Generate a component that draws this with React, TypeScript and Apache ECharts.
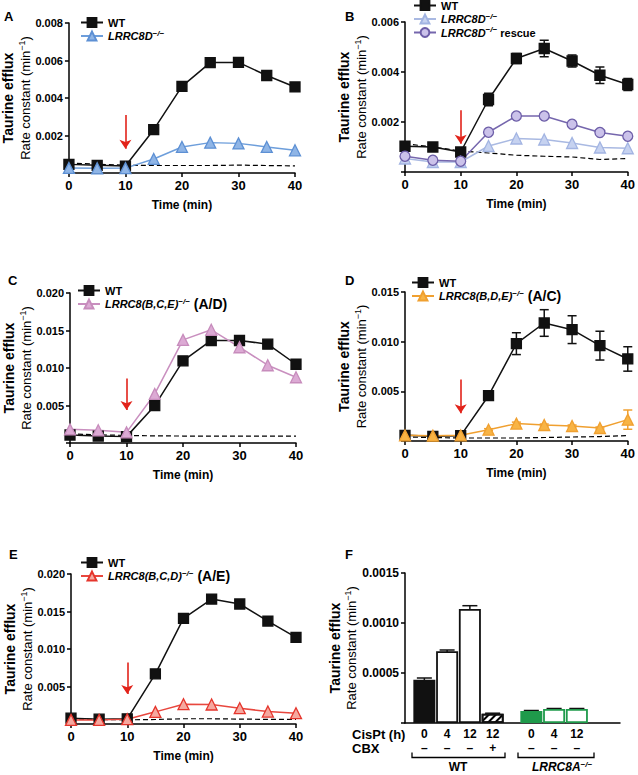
import React, { useEffect, useRef } from "react";
import * as echarts from "echarts";

const FONT = '"Liberation Sans", Arial, Helvetica, sans-serif';

// ---------- data ----------
const times = [0, 5, 10, 15, 20, 25, 30, 35, 40];

// Panel A
const aWT = [0.00046, 0.00041, 0.00037, 0.00231, 0.00462, 0.00589, 0.0059, 0.0052, 0.00459];
const aWTErr = [0.00005, 0.00004, 0.00003, 0.00008, 0.00018, 0.0002, 0.00012, 0.0001, 0.00008];
const aKO = [0.00027, 0.00025, 0.00026, 0.00075, 0.00139, 0.00162, 0.00158, 0.00139, 0.00121];
const aCtrl = [0.00053, 0.00047, 0.00041, 0.0004, 0.0004, 0.0004, 0.00042, 0.0004, 0.00038];
const aArrow = [0.0031, 0.0013];

// Panel B
const bWT = [0.00103, 0.001, 0.0008, 0.0029, 0.00454, 0.00494, 0.00444, 0.00387, 0.0035];
const bWTErr = [0.00005, 0.00003, 0.00006, 0.00025, 0.0002, 0.00033, 0.00024, 0.00033, 0.00024];
const bKO = [0.00054, 0.0004, 0.0004, 0.00104, 0.00134, 0.0013, 0.00116, 0.00098, 0.00095];
const bRescue = [0.00063, 0.00047, 0.00043, 0.00159, 0.00224, 0.00224, 0.00191, 0.00158, 0.00143];
const bCtrl = [0.00113, 0.001, 0.00084, 0.00076, 0.00067, 0.00063, 0.0006, 0.0005, 0.00054];
const bArrow = [0.00247, 0.00113];

// Panel C
const cWT = [0.00107, 0.00093, 0.00085, 0.00498, 0.01095, 0.01367, 0.01367, 0.01318, 0.0105];
const cKO = [0.00182, 0.00169, 0.00142, 0.00654, 0.01375, 0.01509, 0.01277, 0.01037, 0.00877];
const cCtrl = [0.0012, 0.0011, 0.001, 0.00095, 0.00093, 0.00093, 0.00093, 0.00093, 0.00093];
const cArrow = [0.0086, 0.0044];

// Panel D
const dWT = [0.00057, 0.00047, 0.00054, 0.00456, 0.0098, 0.01188, 0.01121, 0.0096, 0.00826];
const dWTErr = [0.0001, 0.00008, 0.0001, 0.00045, 0.0011, 0.00134, 0.0014, 0.00145, 0.00123];
const dKO = [0.00057, 0.00054, 0.00057, 0.00114, 0.00175, 0.00161, 0.00151, 0.00131, 0.00215];
const dKOErr = [0.0001, 0.0001, 0.0001, 0.0001, 0.00015, 0.0001, 0.0001, 0.0001, 0.00097];
const dCtrl = [0.0004, 0.00035, 0.0003, 0.0003, 0.0003, 0.00035, 0.0004, 0.00045, 0.00054];
const dArrow = [0.0062, 0.0028];

// Panel E
const eWT = [0.00078, 0.00064, 0.00069, 0.00668, 0.01409, 0.01666, 0.016, 0.01373, 0.01156];
const eKO = [0.00055, 0.00055, 0.00064, 0.00162, 0.00264, 0.0026, 0.00211, 0.00166, 0.00144];
const eCtrl = [0.0007, 0.0006, 0.00055, 0.0006, 0.0007, 0.0007, 0.00065, 0.00062, 0.0006];
const eArrow = [0.0082, 0.004];

// Panel F
const fGenotype = ["WT", "WT", "WT", "WT", "LRRC8A", "LRRC8A", "LRRC8A"];
const fCisPt = ["0", "4", "12", "12", "0", "4", "12"];
const fCBX = ["–", "–", "–", "+", "–", "–", "–"];
const fValues = [0.000433, 0.000717, 0.00114, 0.000093, 0.00012, 0.00014, 0.00014];
const fErr = [0.000017, 0.000013, 0.000033, 0.000005, 0.000005, 0.000005, 0.000005];

// ---------- styles / helpers ----------
const BLACK = "#111";
const groupStart: Record<string, number> = { WT: 0.35, LRRC8A: 5.05 };

const yRich = {
  t: { fontFamily: FONT, fontSize: 14, fontWeight: "bold", lineHeight: 18, color: "#000" },
  r: { fontFamily: FONT, fontSize: 13, lineHeight: 16, color: "#000" },
  s: { fontFamily: FONT, fontSize: 9, lineHeight: 9, verticalAlign: "top", color: "#000" },
};
const yName = "{t|Taurine efflux}\n{r|Rate constant (min}{s|−1}{r|)}";

const legRich = {
  b: { fontFamily: FONT, fontSize: 11, fontWeight: "bold", lineHeight: 14, color: "#000" },
  i: { fontFamily: FONT, fontSize: 11, fontWeight: "bold", fontStyle: "italic", lineHeight: 14, color: "#000" },
  s: { fontFamily: FONT, fontSize: 8, fontWeight: "bold", fontStyle: "italic", lineHeight: 8, verticalAlign: "top", color: "#000" },
  L: { fontFamily: FONT, fontSize: 14, fontWeight: "bold", lineHeight: 14, color: "#000" },
};
const legLabels: Record<string, string> = {
  "A:WT": "{b|WT}",
  "A:KO": "{i|LRRC8D}{s|−/−}",
  "B:WT": "{b|WT}",
  "B:KO": "{i|LRRC8D}{s|−/−}",
  "B:R": "{i|LRRC8D}{s|−/−}{b| rescue}",
  "C:WT": "{b|WT}",
  "C:KO": "{i|LRRC8(B,C,E)}{s|−/−}{L| (A/D)}",
  "D:WT": "{b|WT}",
  "D:KO": "{i|LRRC8(B,D,E)}{s|−/−}{L| (A/C)}",
  "E:WT": "{b|WT}",
  "E:KO": "{i|LRRC8(B,C,D)}{s|−/−}{L| (A/E)}",
};

const grids = [
  { left: 68, top: 23, width: 227, height: 150 },
  { left: 405, top: 22, width: 226, height: 150 },
  { left: 70, top: 293, width: 226, height: 150 },
  { left: 405, top: 292, width: 226, height: 149 },
  { left: 71, top: 574, width: 225, height: 150 },
  { left: 405, top: 573, width: 215, height: 150 },
];

const axisLine = { show: true, onZero: false, lineStyle: { color: "#000", width: 1.5 } };
const axisTick = { show: true, length: 4, lineStyle: { color: "#000", width: 1.5 } };

function yAxis(idx: number, max: number, interval: number, dec: number, gap: number, size = 11) {
  return {
    type: "value",
    gridIndex: idx,
    min: 0,
    max,
    interval,
    axisLine,
    axisTick,
    splitLine: { show: false },
    axisLabel: {
      fontFamily: FONT,
      fontSize: size,
      fontWeight: "bold",
      color: "#000",
      margin: 6,
      formatter: (v: number) => (v === 0 ? "" : v.toFixed(dec)),
    },
    name: yName,
    nameLocation: "middle",
    nameRotate: 90,
    nameGap: gap,
    nameTextStyle: { rich: yRich, color: "#000" },
  };
}

function xAxis(idx: number) {
  return {
    type: "value",
    gridIndex: idx,
    min: 0,
    max: 40,
    interval: 10,
    axisLine,
    axisTick,
    splitLine: { show: false },
    axisLabel: { fontFamily: FONT, fontSize: 13, fontWeight: "bold", color: "#000", margin: 6 },
    name: "Time (min)",
    nameLocation: "middle",
    nameGap: 26,
    nameTextStyle: { fontFamily: FONT, fontSize: 12, fontWeight: "bold", color: "#000" },
  };
}

function lineSeries(
  name: string,
  idx: number,
  vals: number[],
  symbol: string,
  size: number,
  fill: string,
  stroke: string,
  lineColor: string
) {
  return {
    name,
    type: "line",
    xAxisIndex: idx,
    yAxisIndex: idx,
    data: times.map((t, i) => [t, vals[i]]),
    symbol,
    symbolSize: size,
    clip: false,
    itemStyle: { color: fill, borderColor: stroke, borderWidth: 1.3 },
    lineStyle: { color: lineColor, width: 1.5 },
    emphasis: { disabled: true },
    z: 4,
  };
}

function ctrlSeries(idx: number, vals: number[], arrow: number[]) {
  return {
    type: "line",
    xAxisIndex: idx,
    yAxisIndex: idx,
    data: times.map((t, i) => [t, vals[i]]),
    symbol: "none",
    clip: false,
    lineStyle: { color: "#000", width: 1.2, type: [5, 3] },
    emphasis: { disabled: true },
    z: 2,
    markLine: {
      silent: true,
      symbol: ["none", "arrow"],
      symbolSize: 9,
      label: { show: false },
      lineStyle: { color: "#e2231a", width: 1.6, type: "solid" },
      data: [[{ coord: [10, arrow[0]] }, { coord: [10, arrow[1]] }]],
    },
  };
}

function errSeries(idx: number, xs: number[], vals: number[], errs: number[], cap: number, color: string, z = 3) {
  return {
    type: "custom",
    xAxisIndex: idx,
    yAxisIndex: idx,
    data: xs.map((x, i) => [x, vals[i], errs[i]]),
    encode: { x: 0, y: 1 },
    clip: false,
    z,
    silent: true,
    renderItem: (params: any, api: any) => {
      const x = api.value(0);
      const y = api.value(1);
      const e = api.value(2);
      const top = api.coord([x, y + e]);
      const bot = api.coord([x, y - e]);
      const st = { stroke: color, lineWidth: 1.5 };
      return {
        type: "group",
        children: [
          { type: "line", shape: { x1: top[0], y1: top[1], x2: bot[0], y2: bot[1] }, style: st },
          { type: "line", shape: { x1: top[0] - cap / 2, y1: top[1], x2: top[0] + cap / 2, y2: top[1] }, style: st },
          { type: "line", shape: { x1: bot[0] - cap / 2, y1: bot[1], x2: bot[0] + cap / 2, y2: bot[1] }, style: st },
        ],
      };
    },
  };
}

function legend(names: string[], left: number, top: number) {
  return {
    data: names,
    orient: "vertical",
    left,
    top,
    padding: 0,
    itemGap: 1,
    itemWidth: 22,
    itemHeight: 11,
    selectedMode: false,
    formatter: (n: string) => legLabels[n],
    textStyle: { fontFamily: FONT, fontSize: 11, fontWeight: "bold", color: "#000", rich: legRich },
  };
}

function barStyle(i: number) {
  const g = fGenotype[i];
  const col = g === "WT" ? BLACK : "#1f9a4b";
  if (fCBX[i] === "+") {
    return {
      color: "#fff",
      borderColor: col,
      borderWidth: 1.8,
      decal: {
        symbol: "rect",
        symbolSize: 1,
        color: "#000",
        backgroundColor: "#fff",
        dashArrayX: [1, 0],
        dashArrayY: [1.5, 3],
        rotation: -Math.PI / 4,
      },
    };
  }
  if (fCisPt[i] === "0") return { color: col, borderColor: col, borderWidth: 1.8 };
  return { color: "#fff", borderColor: col, borderWidth: 1.8 };
}

export default function App() {
  const ref = useRef<HTMLDivElement>(null);
  useEffect(() => {
    if (!ref.current) return;
    const chart = echarts.init(ref.current, null, { renderer: "svg" });

    const groupCount: Record<string, number> = {};
    const fPos = fGenotype.map((g) => {
      const k = groupCount[g] || 0;
      groupCount[g] = k + 1;
      return groupStart[g] + k + 0.5;
    });

    const letters = [
      ["A", 4, 16],
      ["B", 345, 16],
      ["C", 8, 280],
      ["D", 345, 280],
      ["E", 9, 554],
      ["F", 345, 554],
    ];

    const bracket = (x1: number, x2: number) => ({
      type: "polyline",
      shape: { points: [[x1, 752.5], [x1, 757.5], [x2, 757.5], [x2, 752.5]] },
      style: { stroke: "#000", lineWidth: 1.3, fill: "none" },
    });

    const option: any = {
      animation: false,
      textStyle: { fontFamily: FONT },
      grid: grids,
      xAxis: [
        xAxis(0),
        xAxis(1),
        xAxis(2),
        xAxis(3),
        xAxis(4),
        {
          type: "value",
          gridIndex: 5,
          min: 0,
          max: 9.445,
          axisLine,
          axisTick: { show: false },
          axisLabel: { show: false },
          splitLine: { show: false },
        },
      ],
      yAxis: [
        yAxis(0, 0.008, 0.002, 3, 34),
        yAxis(1, 0.006, 0.002, 3, 35),
        yAxis(2, 0.02, 0.005, 3, 36),
        yAxis(3, 0.015, 0.005, 3, 34),
        yAxis(4, 0.02, 0.005, 3, 36),
        yAxis(5, 0.0015, 0.0005, 4, 44, 12),
      ],
      legend: [
        legend(["A:WT", "A:KO"], 80, 17),
        legend(["B:WT", "B:KO", "B:R"], 413, 0),
        legend(["C:WT", "C:KO"], 77, 285),
        legend(["D:WT", "D:KO"], 411, 277),
        legend(["E:WT", "E:KO"], 80, 557),
      ],
      series: [
        // A
        ctrlSeries(0, aCtrl, aArrow),
        errSeries(0, times, aWT, aWTErr, 9, BLACK),
        lineSeries("A:WT", 0, aWT, "rect", 10, BLACK, BLACK, BLACK),
        lineSeries("A:KO", 0, aKO, "triangle", 11, "#8fb5e6", "#5d90d4", "#6d9edb"),
        // B
        ctrlSeries(1, bCtrl, bArrow),
        errSeries(1, times, bWT, bWTErr, 9, BLACK),
        lineSeries("B:WT", 1, bWT, "rect", 10, BLACK, BLACK, BLACK),
        lineSeries("B:KO", 1, bKO, "triangle", 11, "#c6d2f0", "#a2b4e2", "#a9b9e2"),
        lineSeries("B:R", 1, bRescue, "circle", 10, "#cbc2ea", "#6d5ea8", "#7566ad"),
        // C
        ctrlSeries(2, cCtrl, cArrow),
        lineSeries("C:WT", 2, cWT, "rect", 10, BLACK, BLACK, BLACK),
        lineSeries("C:KO", 2, cKO, "triangle", 11, "#dcaad4", "#c78cbc", "#c98fbf"),
        // D
        ctrlSeries(3, dCtrl, dArrow),
        errSeries(3, times, dWT, dWTErr, 9, BLACK),
        errSeries(3, times, dKO, dKOErr, 9, "#f0a030"),
        lineSeries("D:WT", 3, dWT, "rect", 10, BLACK, BLACK, BLACK),
        lineSeries("D:KO", 3, dKO, "triangle", 11, "#f8b445", "#f0a030", "#f0a030"),
        // E
        ctrlSeries(4, eCtrl, eArrow),
        lineSeries("E:WT", 4, eWT, "rect", 10, BLACK, BLACK, BLACK),
        lineSeries("E:KO", 4, eKO, "triangle", 11, "#f5a89f", "#e5352c", "#e8473e"),
        // F
        errSeries(5, fPos, fValues, fErr, 15, BLACK, 1),
        {
          type: "bar",
          xAxisIndex: 5,
          yAxisIndex: 5,
          barWidth: 22,
          z: 3,
          data: fValues.map((v, i) => ({ value: [fPos[i], v], itemStyle: barStyle(i) })),
          label: {
            show: true,
            position: "bottom",
            distance: 4,
            formatter: (p: any) => `${fCisPt[p.dataIndex]}\n${fCBX[p.dataIndex]}`,
            fontFamily: FONT,
            fontSize: 12,
            fontWeight: "bold",
            lineHeight: 14,
            color: "#000",
          },
          emphasis: { disabled: true },
        },
      ],
      graphic: [
        ...letters.map(([t, x, y]) => ({
          type: "text",
          x,
          y,
          style: { text: t, fontFamily: FONT, fontSize: 13, fontWeight: "bold", fill: "#000", textVerticalAlign: "middle" },
        })),
        {
          type: "text",
          x: 352,
          y: 734,
          style: { text: "CisPt (h)", fontFamily: FONT, fontSize: 13, fontWeight: "bold", fill: "#000", textVerticalAlign: "middle" },
        },
        {
          type: "text",
          x: 352,
          y: 748,
          style: { text: "CBX", fontFamily: FONT, fontSize: 13, fontWeight: "bold", fill: "#000", textVerticalAlign: "middle" },
        },
        bracket(412, 505),
        bracket(518, 594),
        {
          type: "text",
          x: 458,
          y: 767,
          style: { text: "WT", fontFamily: FONT, fontSize: 12, fontWeight: "bold", fill: "#000", textAlign: "center", textVerticalAlign: "middle" },
        },
        {
          type: "text",
          x: 562,
          y: 767,
          style: {
            text: "{i|LRRC8A}{s|−/−}",
            textAlign: "center",
            textVerticalAlign: "middle",
            rich: {
              i: { fontFamily: FONT, fontSize: 12, fontWeight: "bold", fontStyle: "italic", lineHeight: 13, fill: "#000" },
              s: { fontFamily: FONT, fontSize: 8, fontWeight: "bold", fontStyle: "italic", lineHeight: 8, verticalAlign: "top", fill: "#000" },
            },
          },
        },
      ],
    };

    chart.setOption(option);
    return () => chart.dispose();
  }, []);

  return (
    <div
      ref={ref}
      style={{ position: "absolute", left: 0, top: 0, width: 638, height: 775, background: "#fff" }}
    />
  );
}
